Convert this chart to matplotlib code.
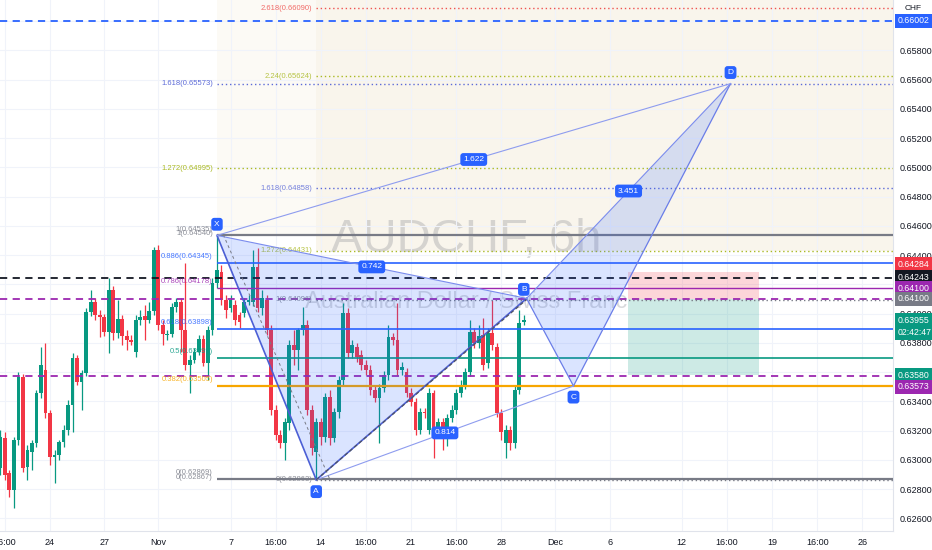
import numpy as np
import matplotlib.pyplot as plt
from matplotlib.patches import Polygon, Rectangle

plt.rcParams['font.family'] = ['Liberation Sans Narrow', 'Liberation Sans', 'DejaVu Sans']

# AUDCHF 6h candles (oldest first)
opens = [0.62944, 0.63149, 0.62910, 0.62793, 0.63135, 0.63568, 0.62951, 0.63053, 0.63115, 0.63457,
         0.63614, 0.63320, 0.63019, 0.63033, 0.63122, 0.63204, 0.63375, 0.63696, 0.63532, 0.63594,
         0.64011, 0.64079, 0.63990, 0.63977, 0.63876, 0.64161, 0.63867, 0.63963, 0.63847, 0.63819,
         0.63737, 0.63956, 0.63984, 0.63956, 0.64018, 0.64435, 0.63922, 0.63854, 0.63860, 0.64045,
         0.64079, 0.63888, 0.63649, 0.63683, 0.63737, 0.63826, 0.63662, 0.63888, 0.64209, 0.64285,
         0.64093, 0.64038, 0.64059, 0.63990, 0.64004, 0.64079, 0.64079, 0.64319, 0.64038, 0.64093,
         0.63888, 0.63341, 0.63170, 0.63115, 0.63252, 0.63785, 0.63751, 0.63888, 0.63922, 0.63341,
         0.63053, 0.63259, 0.63156, 0.63430, 0.63149, 0.63327, 0.63547, 0.64004, 0.63730, 0.63772,
         0.63717, 0.63649, 0.63614, 0.63477, 0.63423, 0.63491, 0.63580, 0.63840, 0.63819, 0.63614,
         0.63601, 0.63457, 0.63395, 0.63204, 0.63327, 0.63204, 0.63457, 0.63204, 0.63259, 0.63218,
         0.63286, 0.63341, 0.63457, 0.63511, 0.63601, 0.63876, 0.63799, 0.63854, 0.63662, 0.63867,
         0.63772, 0.63320, 0.63115, 0.63204, 0.63115, 0.63477, 0.63943]
highs = [0.63204, 0.63190, 0.62930, 0.63156, 0.63601, 0.63587, 0.63101, 0.63135, 0.63477, 0.63772,
         0.63799, 0.63341, 0.63067, 0.63135, 0.63238, 0.63409, 0.63730, 0.63717, 0.63614, 0.64038,
         0.64161, 0.64107, 0.64025, 0.63997, 0.64243, 0.64189, 0.64093, 0.63990, 0.63888, 0.63854,
         0.63990, 0.64025, 0.64059, 0.64079, 0.64456, 0.64469, 0.63956, 0.63888, 0.64072, 0.64107,
         0.64107, 0.64346, 0.63717, 0.63765, 0.63854, 0.63854, 0.63915, 0.64243, 0.64535, 0.64332,
         0.64127, 0.64127, 0.64093, 0.64011, 0.64107, 0.64127, 0.64435, 0.64449, 0.64161, 0.64127,
         0.63922, 0.63375, 0.63204, 0.63286, 0.63819, 0.63888, 0.63901, 0.64045, 0.63956, 0.63375,
         0.63286, 0.63286, 0.63457, 0.63477, 0.63354, 0.63573, 0.64072, 0.64038, 0.63819, 0.63799,
         0.63751, 0.63683, 0.63649, 0.63511, 0.63518, 0.63607, 0.63922, 0.63867, 0.64072, 0.63669,
         0.63628, 0.63491, 0.63423, 0.63354, 0.63354, 0.63491, 0.63477, 0.63286, 0.63286, 0.63313,
         0.63375, 0.63484, 0.63547, 0.63628, 0.63956, 0.63901, 0.63922, 0.63970, 0.63901, 0.64093,
         0.63799, 0.63348, 0.63238, 0.63231, 0.63504, 0.64025, 0.63990]
lows = [0.62896, 0.62862, 0.62746, 0.62670, 0.63101, 0.62917, 0.62862, 0.62930, 0.63088, 0.63423,
        0.63286, 0.62964, 0.62841, 0.62999, 0.63088, 0.63170, 0.63190, 0.63511, 0.63341, 0.63573,
        0.63984, 0.63957, 0.63840, 0.63847, 0.63730, 0.63819, 0.63833, 0.63785, 0.63751, 0.63785,
        0.63703, 0.63922, 0.63819, 0.63936, 0.63990, 0.63888, 0.63785, 0.63819, 0.63840, 0.64011,
        0.63737, 0.63614, 0.63457, 0.63662, 0.63717, 0.63642, 0.63547, 0.63854, 0.64175, 0.64059,
        0.63970, 0.64011, 0.63922, 0.63900, 0.63977, 0.64059, 0.64052, 0.64011, 0.63990, 0.63854,
        0.63306, 0.63135, 0.63081, 0.62999, 0.63204, 0.63649, 0.63614, 0.63854, 0.63306, 0.63033,
        0.62863, 0.63101, 0.63122, 0.63101, 0.63122, 0.63286, 0.63511, 0.63696, 0.63696, 0.63669,
        0.63614, 0.63580, 0.63443, 0.63395, 0.63115, 0.63464, 0.63547, 0.63785, 0.63580, 0.63580,
        0.63430, 0.63368, 0.63170, 0.63177, 0.63286, 0.63177, 0.63012, 0.63163, 0.63067, 0.63094,
        0.63259, 0.63313, 0.63430, 0.63484, 0.63573, 0.63765, 0.63765, 0.63614, 0.63628, 0.63751,
        0.63293, 0.63135, 0.63012, 0.63067, 0.63081, 0.63450, 0.63922]
closes = [0.63156, 0.62896, 0.62793, 0.63135, 0.63568, 0.62944, 0.63065, 0.63115, 0.63457, 0.63649,
          0.63320, 0.63019, 0.63033, 0.63122, 0.63204, 0.63375, 0.63696, 0.63532, 0.63594, 0.64011,
          0.64079, 0.63990, 0.63977, 0.63876, 0.64161, 0.63867, 0.63963, 0.63847, 0.63819, 0.63806,
          0.63956, 0.63977, 0.63956, 0.64018, 0.64435, 0.63922, 0.63860, 0.63860, 0.64045, 0.64079,
          0.63888, 0.63649, 0.63683, 0.63737, 0.63826, 0.63662, 0.63888, 0.64209, 0.64298, 0.64093,
          0.64025, 0.64093, 0.63956, 0.63943, 0.64079, 0.64093, 0.64319, 0.64038, 0.64107, 0.63888,
          0.63341, 0.63170, 0.63115, 0.63259, 0.63785, 0.63751, 0.63888, 0.63922, 0.63341, 0.63081,
          0.63259, 0.63156, 0.63430, 0.63149, 0.63327, 0.63547, 0.64004, 0.63730, 0.63785, 0.63703,
          0.63649, 0.63614, 0.63477, 0.63423, 0.63491, 0.63580, 0.63840, 0.63819, 0.63614, 0.63635,
          0.63457, 0.63395, 0.63204, 0.63327, 0.63320, 0.63457, 0.63204, 0.63259, 0.63218, 0.63286,
          0.63341, 0.63457, 0.63511, 0.63601, 0.63876, 0.63799, 0.63847, 0.63649, 0.63867, 0.63785,
          0.63320, 0.63190, 0.63204, 0.63115, 0.63477, 0.63936, 0.63955]

# time axis: trading days since Oct 24 (weekends skipped), 4 bars per day
first_bar_day = -2.75
tick_days = [-2.5, 0, 3, 6, 10, 12.5, 15, 17.5, 20, 22.5, 25, 28, 31, 35, 37.5, 40, 42.5, 45]
tick_labels = ['16:00', '24', '27', 'Nov', '7', '16:00', '14', '16:00', '21', '16:00',
               '28', 'Dec', '6', '12', '16:00', '19', '16:00', '26']
grid_prices = [0.626, 0.628, 0.630, 0.632, 0.634, 0.636, 0.638, 0.640, 0.642, 0.644,
               0.646, 0.648, 0.650, 0.652, 0.654, 0.656, 0.658, 0.660]
# ticks that are not hidden behind the price labels
label_prices = [0.626, 0.628, 0.630, 0.632, 0.634, 0.638, 0.640, 0.644,
                0.646, 0.648, 0.650, 0.652, 0.654, 0.656, 0.658]

# harmonic pattern XABCD
pat_names = ['X', 'A', 'B', 'C', 'D']
pat_days = [9.25, 14.75, 26.4, 29.0, 37.7]
pat_prices = [0.64535, 0.62863, 0.64104, 0.63505, 0.65573]
ratio_labels = ['0.742', '0.814', '1.622', '3.451']   # on XB, AC, XD, BD

# fib retracement X -> A
retr_levels = ['1', '0.886', '0.786', '0.618', '0.5', '0.382', '0']
retr_prices = [0.64535, 0.64345, 0.64178, 0.63898, 0.63699, 0.63505, 0.62869]
retr_ext_levels = ['1.272', '1.618']
retr_ext_prices = [0.64995, 0.65573]
# second copy of the tool
retr2_levels = ['1', '0']
retr2_prices = [0.64540, 0.62867]
# fib extension from A
ext_levels = ['0', '1', '1.272', '1.618', '2.24', '2.618']
ext_prices = [0.62863, 0.64096, 0.64431, 0.64858, 0.65624, 0.66090]

# horizontal lines across the chart
hl_prices = [0.66002, 0.64243, 0.64100, 0.63573]
hl_colors = ['#2962ff', '#131722', '#9c27b0', '#9c27b0']

# short position tool
pos_days = [32.04, 39.28]
pos_entry, pos_stop, pos_target = 0.64100, 0.64284, 0.63580

# price scale labels
axis_prices = [0.66002, 0.64284, 0.64243, 0.64100, 0.64100, 0.63955, 0.63580, 0.63573]
axis_texts = ['0.66002', '0.64284', '0.64243', '0.64100', '0.64100', '0.63955\n02:42:47', '0.63580', '0.63573']
axis_colors = ['#2962ff', '#f23645', '#131722', '#9c27b0', '#787b86', '#089981', '#089981', '#9c27b0']
axis_shift = [0, 5.8, 0.7, 7.9, 0, -4.5, 0, -7.9]   # points, to avoid overlap

UP, DOWN = '#089981', '#f23645'
YG, SLATE, GRAY = '#aab924', '#5d6bd8', '#787b86'

fig = plt.figure(figsize=(9.32, 5.5), dpi=100)
ax = fig.add_axes([0, 19 / 550, 893 / 932, 531 / 550])
ax.set_xlim(-2.77, 46.70)
ax.set_ylim(0.62513, 0.66145)
x_end = 46.70

# grid and axes
ax.set_xticks(tick_days)
ax.set_xticklabels(tick_labels)
ax.set_yticks(grid_prices)
ax.set_yticklabels(['%.5f' % p if p in label_prices else '' for p in grid_prices])
ax.yaxis.tick_right()
ax.tick_params(axis='both', length=0, labelsize=6.5, colors='#131722')
ax.tick_params(axis='x', pad=5)
ax.tick_params(axis='y', pad=5)
ax.grid(color='#f0f3fa', lw=0.8, zorder=0)
ax.set_axisbelow(True)
for s in ['top', 'left']:
    ax.spines[s].set_visible(False)
for s in ['bottom', 'right']:
    ax.spines[s].set_color('#e0e3eb')

# background of the fib tools
ax.add_patch(Rectangle((pat_days[0], retr_prices[0]), x_end - pat_days[0], 0.0162,
                       fc='#fcfaf5', ec='none', zorder=0.2))
ax.add_patch(Rectangle((pat_days[1], ext_prices[2]), x_end - pat_days[1], 0.0172,
                       fc='#f9f5ec', ec='none', zorder=0.3))

# watermark
ax.text(0.522, 0.548, 'AUDCHF, 6h', transform=ax.transAxes, fontsize=34, color=GRAY,
        alpha=0.28, ha='center', va='center', zorder=0.5)
ax.text(0.522, 0.431, 'Australian Dollar / Swiss Franc', transform=ax.transAxes, fontsize=17,
        color=GRAY, alpha=0.28, ha='center', va='center', zorder=0.5)

# candles
o, h, l, c = map(np.array, (opens, highs, lows, closes))
days = first_bar_day + np.arange(len(o)) / 4.0
cols = np.where(c >= o, UP, DOWN)
ax.vlines(days, l, h, colors=cols, lw=0.9, zorder=3)
body = np.maximum(np.abs(c - o), 0.00002)
ax.bar(days, body, bottom=np.minimum(o, c), width=0.21, color=cols, zorder=3.1)

# fib retracement levels
retr_cols = [GRAY, '#2962ff', '#9c27b0', '#2962ff', '#089981', '#f7a600', GRAY]
retr_lw = [1.6, 1.2, 1.0, 1.2, 1.2, 1.6, 1.6]
for lv, p, col, lw in zip(retr_levels, retr_prices, retr_cols, retr_lw):
    ax.hlines(p, pat_days[0], x_end, color=col, lw=lw, zorder=5)
    ax.annotate('%s(%.5f)' % (lv, p), (pat_days[0], p), xytext=(-3, 4.5), textcoords='offset points',
                ha='right', va='center', fontsize=5.5, color=col, alpha=0.85, zorder=6)
for lv, p in zip(retr2_levels, retr2_prices):
    ax.annotate('%s(%.5f)' % (lv, p), (pat_days[0], p), xytext=(-3, 1), textcoords='offset points',
                ha='right', va='center', fontsize=5.5, color=GRAY, alpha=0.85, zorder=6)
for lv, p, col in zip(retr_ext_levels, retr_ext_prices, [YG, SLATE]):
    ax.hlines(p, pat_days[0], x_end, color=col, lw=1.0, ls=(0, (1, 2)), zorder=5)
    ax.annotate('%s(%.5f)' % (lv, p), (pat_days[0], p), xytext=(-3, 0), textcoords='offset points',
                ha='right', va='center', fontsize=5.5, color=col, zorder=6)

# fib extension from A
ext_cols = [GRAY, GRAY, YG, SLATE, YG, '#ef5350']
for lv, p, col in zip(ext_levels, ext_prices, ext_cols):
    ax.hlines(p, pat_days[1], x_end, color=col, lw=1.0, ls=(0, (1, 2)), zorder=5)
    ax.annotate('%s(%.5f)' % (lv, p), (pat_days[1], p), xytext=(-3, 0), textcoords='offset points',
                ha='right', va='center', fontsize=5.5, color=col, alpha=0.85, zorder=6)

# horizontal lines
for p, col in zip(hl_prices, hl_colors):
    ax.axhline(p, color=col, lw=1.3, ls=(0, (4, 3)), zorder=5)

# short position
ax.add_patch(Rectangle((pos_days[0], pos_entry), pos_days[1] - pos_days[0], pos_stop - pos_entry,
                       fc=DOWN, alpha=0.2, ec='none', zorder=4))
ax.add_patch(Rectangle((pos_days[0], pos_target), pos_days[1] - pos_days[0], pos_entry - pos_target,
                       fc=UP, alpha=0.2, ec='none', zorder=4))

# XABCD pattern
pts = list(zip(pat_days, pat_prices))
X, A, B, C, D = pts
ax.add_patch(Polygon([X, A, B], closed=True, fc='#2962ff', alpha=0.17, ec='none', zorder=6))
ax.add_patch(Polygon([B, C, D], closed=True, fc='#2962ff', alpha=0.17, ec='none', zorder=6))
for p1, p2, lw, col in [(X, A, 1.2, '#4c5fd5'), (A, B, 1.2, '#4c5fd5'), (X, B, 0.8, '#7b8ced'),
                        (B, C, 0.9, '#6a7de8'), (C, D, 0.9, '#6a7de8'), (B, D, 0.8, '#7b8ced'),
                        (A, C, 0.8, '#8e9cef'), (X, D, 0.8, '#8e9cef')]:
    ax.plot([p1[0], p2[0]], [p1[1], p2[1]], color=col, lw=lw, zorder=7)
# fib tool trend lines
ax.plot([9.6, 15.5], [retr2_prices[0], retr2_prices[1]], color=GRAY, lw=0.7, ls=(0, (3, 3)), zorder=7)
ax.plot([pat_days[1], pat_days[2]], [ext_prices[0], ext_prices[1]], color='#505463', lw=0.9,
        ls=(0, (3, 2)), zorder=7.5)

box = dict(boxstyle='round,pad=0.35', fc='#2962ff', ec='none')
name_off = [(0, 8), (0, -8.5), (-2, 6.5), (0, -8), (0, 8)]
for name, (px, py), off in zip(pat_names, pts, name_off):
    ax.annotate(name, (px, py), xytext=off, textcoords='offset points', ha='center', va='center',
                fontsize=6, color='white', bbox=box, zorder=9)
for lab, (p1, p2) in zip(ratio_labels, [(X, B), (A, C), (X, D), (B, D)]):
    ax.text((p1[0] + p2[0]) / 2, (p1[1] + p2[1]) / 2, lab, ha='center', va='center',
            fontsize=6, color='white', bbox=box, zorder=9)

# price scale labels
for p, txt, col, dy in zip(axis_prices, axis_texts, axis_colors, axis_shift):
    ax.annotate(txt, (1, p), xycoords=('axes fraction', 'data'), xytext=(3, dy),
                textcoords='offset points', ha='left', va='center', fontsize=6.3, color='white',
                linespacing=1.5, annotation_clip=False, zorder=10,
                bbox=dict(boxstyle='square,pad=0.3', fc=col, ec='none'))
fig.text(905 / 932, 1 - 8 / 550, 'CHF', fontsize=6, color='#131722', va='center')

fig.savefig('out.png', dpi=100)
